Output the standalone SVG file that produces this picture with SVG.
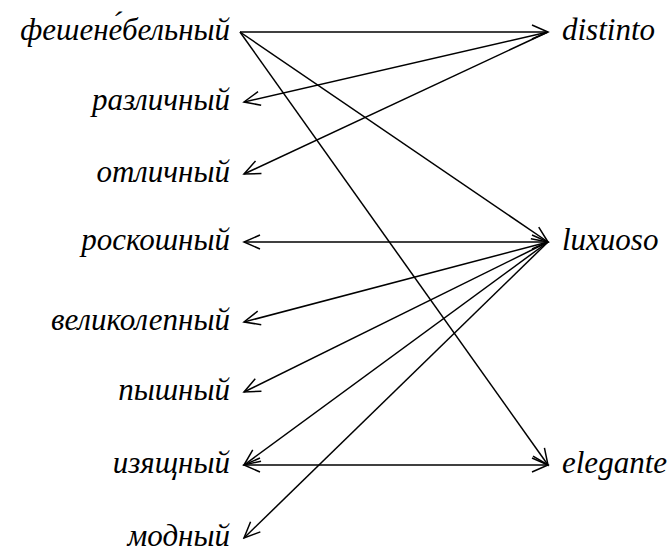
<svg xmlns="http://www.w3.org/2000/svg" width="672" height="553" viewBox="0 0 672 553">
<defs>
<style>
text{font-family:'Liberation Serif','Times New Roman',serif;font-style:italic;font-size:31px;fill:#000}
.l{text-anchor:end}
.r{text-anchor:start}
#connectors line{stroke:#000;stroke-width:1.5;fill:none;marker-end:url(#ah)}
#connectors line.both{marker-start:url(#ah)}
</style>
<marker id="ah" markerUnits="userSpaceOnUse" viewBox="-17 -9 19 18" refX="0" refY="0" markerWidth="19" markerHeight="18" orient="auto-start-reverse">
<path d="M-16,-7 L0,0 L-16,7" fill="none" stroke="#000" stroke-width="1.5"/>
</marker>
</defs>
<rect width="672" height="553" fill="#fff"/>
<g id="connectors">
<line x1="240" y1="32" x2="548" y2="32"/>
<line x1="240" y1="32" x2="548" y2="242"/>
<line x1="240" y1="32" x2="548" y2="465"/>
<line x1="548" y1="32" x2="244" y2="102"/>
<line x1="548" y1="32" x2="244" y2="174"/>
<line class="both" x1="548" y1="242" x2="244" y2="242"/>
<line x1="548" y1="242" x2="244" y2="322"/>
<line x1="548" y1="242" x2="244" y2="392"/>
<line x1="548" y1="242" x2="244" y2="465"/>
<line x1="548" y1="242" x2="244" y2="538"/>
<line class="both" x1="244" y1="465" x2="548" y2="465"/>
</g>
<g id="n-feshenebelny"><text class="l" x="230" y="40">фешене́бельный</text></g>
<g id="n-razlichny"><text class="l" x="230" y="110">различный</text></g>
<g id="n-otlichny"><text class="l" x="230" y="182">отличный</text></g>
<g id="n-roskoshny"><text class="l" x="230" y="250">роскошный</text></g>
<g id="n-velikolepny"><text class="l" x="230" y="330">великолепный</text></g>
<g id="n-pyshny"><text class="l" x="230" y="400">пышный</text></g>
<g id="n-izyashchny"><text class="l" x="230" y="473">изящный</text></g>
<g id="n-modny"><text class="l" x="230" y="546">модный</text></g>
<g id="n-distinto"><text class="r" x="562" y="40">distinto</text></g>
<g id="n-luxuoso"><text class="r" x="562" y="250">luxuoso</text></g>
<g id="n-elegante"><text class="r" x="562" y="473">elegante</text></g>
</svg>
